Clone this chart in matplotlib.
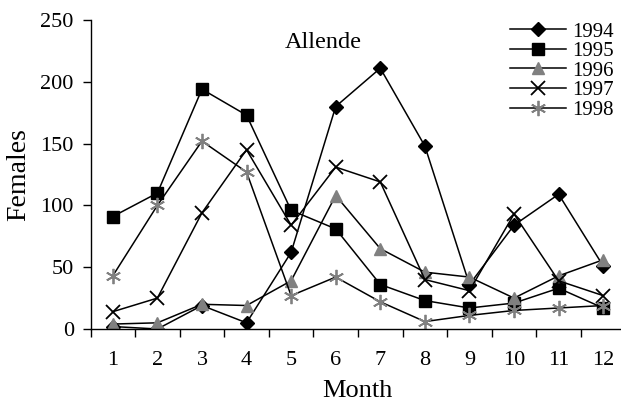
import matplotlib
matplotlib.use("Agg")
import matplotlib.pyplot as plt

plt.rcParams['font.family'] = ['Liberation Serif', 'DejaVu Serif']

# Monthly female counts at Allende
months = list(range(1, 13))
females_1994 = [2, 0, 19, 5, 62, 180, 211, 148, 36, 84, 109, 51]
females_1995 = [91, 110, 194, 173, 96, 81, 36, 23, 17, 21, 33, 17]
females_1996 = [4, 5, 20, 19, 39, 108, 65, 46, 42, 25, 43, 56]
females_1997 = [14, 25, 94, 145, 84, 131, 119, 40, 31, 93, 39, 27]
females_1998 = [43, 100, 152, 127, 27, 42, 22, 6, 11, 15, 17, 19]

GRAY = "#808080"

fig = plt.figure(figsize=(6.21, 4.08), dpi=100)
ax = fig.add_axes([90.5 / 621, 79 / 408, 535 / 621, 309 / 408])

ax.plot(months, females_1994, color="black", lw=1.1, marker="D", ms=7,
        mfc="black", mec="black", label="1994")
ax.plot(months, females_1995, color="black", lw=1.1, marker="s", ms=9,
        mfc="black", mec="black", label="1995")
ax.plot(months, females_1996, color="black", lw=1.1, marker="^", ms=9,
        mfc=GRAY, mec=GRAY, label="1996")
ax.plot(months, females_1997, color="black", lw=1.1, marker="x", ms=10,
        mew=1.3, mec="black", label="1997")
ax.plot(months, females_1998, color="black", lw=1.1, marker=(6, 2, 0), ms=11,
        mew=1.3, mec=GRAY, label="1998")

ax.set_xlim(0.5, 12.5)
ax.set_ylim(0, 250)
ax.set_yticks(range(0, 251, 50))
ax.set_xticks(months)
ax.set_xticks([m + 0.5 for m in range(0, 12)], minor=True)
ax.tick_params(axis="x", which="major", length=0, pad=16, labelsize=16)
ax.tick_params(axis="x", which="minor", length=6, direction="out", width=1)
ax.tick_params(axis="y", length=6, direction="out", width=1, labelsize=16, pad=6)

for side in ("top", "right"):
    ax.spines[side].set_visible(False)
for side in ("left", "bottom"):
    ax.spines[side].set_linewidth(1)

fig.text(19 / 621, 1 - 175 / 408, "Females", fontsize=20, rotation=90,
         ha="center", va="center")
fig.text(357 / 621, 1 - 391 / 408, "Month", fontsize=19,
         ha="center", va="center")
fig.text(323 / 621, 1 - 42 / 408, "Allende", fontsize=17.5,
         ha="center", va="center")

ax.legend(loc="upper left", bbox_to_anchor=(510 / 621, 1 - 22 / 408),
          bbox_transform=fig.transFigure, frameon=False, fontsize=15,
          labelspacing=0.0, handlelength=2.7, handletextpad=0.3,
          borderpad=0, borderaxespad=0)

fig.savefig("out.png", dpi=100)
